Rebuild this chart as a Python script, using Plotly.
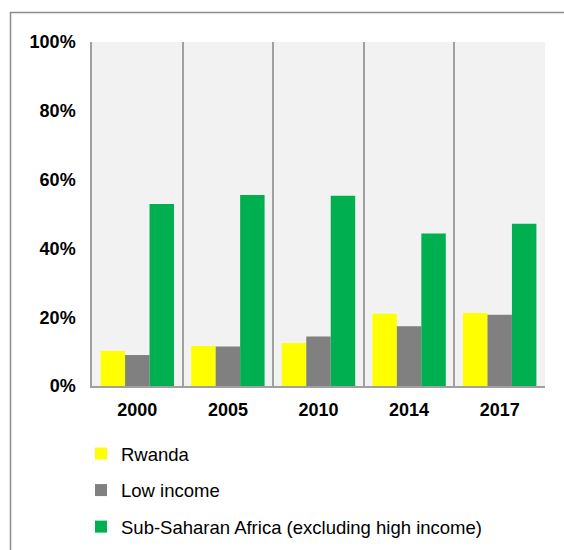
import plotly.graph_objects as go

# Survey years and shares per group
years = ["2000", "2005", "2010", "2014", "2017"]
rwanda = [0.102, 0.116, 0.125, 0.210, 0.212]
low_income = [0.090, 0.115, 0.144, 0.174, 0.207]
ssa = [0.529, 0.555, 0.553, 0.443, 0.472]

series_names = ["Rwanda", "Low income", "Sub-Saharan Africa (excluding high income)"]
series_colors = ["#FFFF00", "#808080", "#00B050"]

W, H = 564, 550
M_L, M_R, M_T, M_B = 92, 19, 42, 164
PW = W - M_L - M_R
PH = H - M_T - M_B


def px_x(px):
    return (px - M_L) / PW


def px_y(py):
    return (H - M_B - py) / PH


fig = go.Figure()
for i, (name, vals, col) in enumerate(zip(series_names, [rwanda, low_income, ssa], series_colors)):
    fig.add_trace(go.Bar(
        x=years, y=vals, name=name, marker=dict(color=col, line=dict(width=0)),
        legendgroup=f"g{i}",
    ))

font_family = "Liberation Sans, Arial, sans-serif"

fig.update_layout(
    width=W, height=H,
    margin=dict(l=M_L, r=M_R, t=M_T, b=M_B, pad=0, autoexpand=False),
    paper_bgcolor="white",
    plot_bgcolor="#F2F2F2",
    barmode="group",
    bargap=0.19,
    bargroupgap=0,
    font=dict(family=font_family, size=18, color="black"),
    showlegend=True,
    legend=dict(
        x=px_x(81), y=px_y(435), xanchor="left", yanchor="top",
        orientation="v", traceorder="grouped", tracegroupgap=9.5,
        font=dict(family=font_family, size=18.5, color="black"),
        bgcolor="rgba(0,0,0,0)", borderwidth=0,
    ),
    xaxis=dict(
        type="category",
        tickson="boundaries",
        showgrid=True, gridcolor="#A0A0A0", gridwidth=1.5,
        showline=True, linecolor="#A0A0A0", linewidth=1.5,
        ticks="", ticklabelstandoff=7,
        tickfont=dict(family=font_family, size=18, color="black", weight="bold"),
        range=[-0.5, 4.5],
    ),
    yaxis=dict(
        range=[0, 1], dtick=0.2, tickformat=".0%",
        showgrid=False, zeroline=False,
        showline=True, linecolor="#A0A0A0", linewidth=1.5,
        ticks="", ticklabelstandoff=11,
        tickfont=dict(family=font_family, size=18, color="black", weight="bold"),
    ),
    shapes=[
        dict(type="rect", xref="paper", yref="paper",
             x0=px_x(10.5), x1=px_x(600), y0=px_y(600), y1=px_y(12.5),
             line=dict(color="#8C8C8C", width=1.5), fillcolor="rgba(0,0,0,0)",
             layer="below"),
    ],
)

fig.write_html("out.html")
